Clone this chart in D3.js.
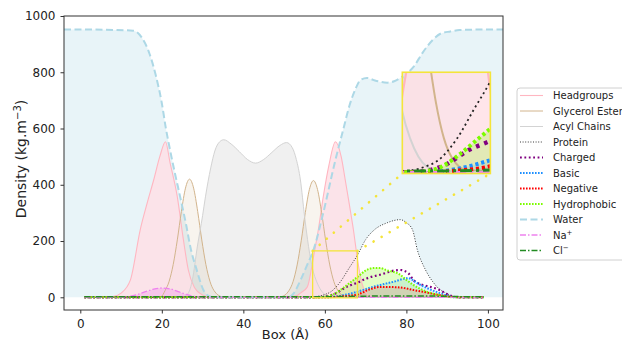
<!DOCTYPE html>
<html>
<head>
<meta charset="utf-8">
<script src="https://cdn.jsdelivr.net/npm/d3@7"></script>
<style>
  body { margin: 0; background: #fff; }
  svg text { font-family: "DejaVu Sans", sans-serif; fill: #222; }
</style>
</head>
<body>
<svg id="chart" width="622" height="342"></svg>
<script>
// tick labels
const xTicks = [0, 20, 40, 60, 80, 100];
const yTicks = [0, 200, 400, 600, 800, 1000];

// legend labels (Na+ / Cl- get a superscript)
const legendLabels = ['Headgroups', 'Glycerol Esters', 'Acyl Chains', 'Protein', 'Charged', 'Basic',
  'Negative', 'Hydrophobic', 'Water', 'Na', 'Cl'];
const legendSup = ['', '', '', '', '', '', '', '', '', '+', '\u2212'];

// density profiles (box position in A, density in kg.m-3)
const headgroupsX = [1, 8, 10, 12.3, 14.7, 16.5, 18, 19.5, 20.9, 22, 23.8, 25.3, 26.5, 28, 30, 32, 50, 53, 54, 55.7, 57.2, 58.5, 59.6, 61, 62.6, 64, 65, 66, 67, 68, 69, 70, 71, 73, 99];
const headgroupsY = [0, 3, 15, 62, 240, 340, 417, 500, 553, 480, 357, 204, 97, 35, 8, 0, 0, 5, 15, 37, 143, 250, 357, 470, 553, 500, 417, 330, 240, 135, 55, 18, 5, 0, 0];

const glycerolX = [1, 17, 19.8, 20.8, 21.8, 22.8, 23.8, 24.8, 25.8, 26.8, 27.8, 28.8, 29.8, 30.8, 31.8, 32.8, 34.8, 37, 47, 49.2, 51.2, 52.2, 53.2, 54.2, 55.2, 56.2, 57.2, 58.2, 59.2, 60.2, 61.2, 62.2, 63.2, 65.2, 67, 99];
const glycerolY = [0, 0, 2, 24, 57, 117, 204, 305, 388, 420, 388, 305, 204, 117, 57, 24, 2, 0, 0, 2, 24, 56, 115, 201, 301, 383, 415, 383, 301, 201, 115, 56, 24, 2, 0, 0];

const acylX = [1, 25, 26.5, 27.5, 28.7, 30, 30.7, 32, 33, 34.2, 35.2, 37, 39, 41, 43, 45, 47, 49, 50.6, 52, 53, 54, 55, 56, 57, 58, 59, 60, 62, 99];
const acylY = [0, 0, 15, 62, 179, 290, 357, 460, 520, 553, 560, 545, 518, 490, 477, 490, 515, 540, 550, 532, 490, 417, 290, 180, 100, 55, 26, 10, 0, 0];

const proteinX = [1, 55, 58, 60, 61.4, 63.8, 66, 68, 70, 72, 75.3, 78.5, 80, 81.5, 82.7, 84.7, 86.7, 88, 89.6, 91, 93, 99];
const proteinY = [0, 0, 3, 10, 19, 55, 105, 150, 205, 238, 265, 276, 265, 240, 168, 97, 51, 30, 15, 5, 0, 0];

const chargedX = [1, 58, 62, 65.5, 68, 70.4, 74, 77, 78.5, 80.5, 81.7, 84, 85.6, 87.8, 89.4, 91, 93, 99];
const chargedY = [0, 0, 10, 38, 52, 68, 82, 95, 97, 85, 62, 44, 38, 28, 16, 5, 0, 0];

const basicX = [1, 60, 64, 68, 72, 73.6, 76.8, 80.5, 82.7, 85, 88, 89.6, 92, 99];
const basicY = [0, 0, 6, 20, 38, 44, 55, 68, 50, 33, 16, 8, 0, 0];

const negativeX = [1, 60, 64, 68, 71, 73.6, 78.5, 81.7, 85, 88, 91, 93, 99];
const negativeY = [0, 0, 3, 10, 28, 37, 35, 26, 17, 8, 2, 0, 0];

const hydrophobicX = [1, 58, 60, 62, 64, 66, 68, 70, 72, 73.6, 75, 78.5, 80, 81.7, 85, 88, 90, 92, 99];
const hydrophobicY = [0, 0, 2, 10, 28, 50, 72, 95, 104, 104, 97, 80, 62, 44, 20, 8, 2, 0, 0];

const waterX = [-4, 1, 13, 15, 17, 18.5, 20, 21, 22, 23, 24.5, 26, 27, 28.5, 30.2, 31.5, 33, 51, 52.4, 54, 55.5, 57.2, 59.6, 62.6, 64.5, 66, 67.5, 68.7, 70.3, 72, 75.3, 77, 79, 81.8, 84, 86.6, 88.5, 90.8, 93, 99, 103.7];
const waterY = [952, 952, 948, 925, 865, 790, 690, 600, 525, 455, 357, 255, 179, 100, 26, 5, 0, 0, 15, 60, 110, 168, 300, 489, 596, 680, 740, 772, 780, 772, 763, 768, 785, 820, 870, 917, 938, 945, 950, 952, 952];

const sodiumX = [1, 10, 12, 14, 16, 18, 20, 22, 24, 26, 28, 30, 99];
const sodiumY = [0, 0, 3, 10, 20, 29, 33, 30, 20, 10, 3, 0, 0];

const chlorideX = [1, 60, 70, 80, 88, 95, 99];
const chlorideY = [2, 2, 4, 5, 4, 2, 2];

// zoomed region (data units) and where the inset sits on the main axes
const zoomX = [57, 68], zoomY = [-2, 165];
const insetX = [79, 100.6], insetY = [440, 800];

const series = [
  { name: 'Headgroups', xs: headgroupsX, ys: headgroupsY },
  { name: 'Glycerol Esters', xs: glycerolX, ys: glycerolY },
  { name: 'Acyl Chains', xs: acylX, ys: acylY },
  { name: 'Protein', xs: proteinX, ys: proteinY },
  { name: 'Charged', xs: chargedX, ys: chargedY },
  { name: 'Basic', xs: basicX, ys: basicY },
  { name: 'Negative', xs: negativeX, ys: negativeY },
  { name: 'Hydrophobic', xs: hydrophobicX, ys: hydrophobicY },
  { name: 'Water', xs: waterX, ys: waterY },
  { name: 'Na', xs: sodiumX, ys: sodiumY },
  { name: 'Cl', xs: chlorideX, ys: chlorideY }
];
const byName = {};
series.forEach(s => byName[s.name] = s);

const styles = {
  'Headgroups':      { stroke: '#ffb6c1', width: 1.1, dash: null, fill: '#ffdfe5', op: 0.8 },
  'Glycerol Esters': { stroke: '#d2b48c', width: 1, dash: null, fill: '#d2b48c', op: 0.15 },
  'Acyl Chains':     { stroke: '#d3d3d3', width: 1, dash: null, fill: '#d3d3d3', op: 0.35 },
  'Protein':         { stroke: '#222', width: 0.9, dash: [1, 1.6], fill: '#fff', op: 1 },
  'Charged':         { stroke: '#800080', width: 2.2, dash: [1.8, 2.6], fill: null },
  'Basic':           { stroke: '#1e90ff', width: 2, dash: [1.6, 1.4], fill: '#1e90ff', op: 0.12 },
  'Negative':        { stroke: '#ff0000', width: 2, dash: [1.6, 1.4], fill: '#ff0000', op: 0.12 },
  'Hydrophobic':     { stroke: '#7cfc00', width: 2, dash: [1.6, 1.4], fill: '#7cfc00', op: 0.22 },
  'Water':           { stroke: '#add8e6', width: 2, dash: [7, 3.5], fill: '#add8e6', op: 0.28 },
  'Na':              { stroke: '#ee82ee', width: 1.3, dash: [6, 2, 1.5, 2], fill: '#ee82ee', op: 0.3 },
  'Cl':              { stroke: '#228b22', width: 1.5, dash: [6, 2, 1.5, 2], fill: '#228b22', op: 0.3 }
};
const fillOrder = ['Water', 'Protein', 'Acyl Chains', 'Glycerol Esters', 'Headgroups',
  'Hydrophobic', 'Basic', 'Negative', 'Na', 'Cl'];

const svg = d3.select('#chart');
const margin = { top: 16, right: 119, bottom: 32, left: 64 };
const W = 622 - margin.left - margin.right;
const H = 342 - margin.top - margin.bottom;

const x = d3.scaleLinear().domain([-4, 103.7]).range([margin.left, margin.left + W]);
const y = d3.scaleLinear().domain([-45.2, 1000]).range([margin.top + H, margin.top]);

const defs = svg.append('defs');
defs.append('clipPath').attr('id', 'clipMain').append('rect')
  .attr('x', margin.left).attr('y', margin.top).attr('width', W).attr('height', H);
defs.append('clipPath').attr('id', 'clipInset').append('rect')
  .attr('x', x(insetX[0])).attr('y', y(insetY[1]))
  .attr('width', x(insetX[1]) - x(insetX[0])).attr('height', y(insetY[0]) - y(insetY[1]));

function drawPanel(g, sx, sy, k) {
  fillOrder.forEach(name => {
    const s = byName[name], st = styles[name];
    g.append('path').datum(d3.zip(s.xs, s.ys))
      .attr('d', d3.area().x(d => sx(d[0])).y0(sy(0)).y1(d => sy(d[1])).curve(d3.curveMonotoneX))
      .attr('fill', st.fill).attr('fill-opacity', st.op);
  });
  series.forEach(s => {
    const st = styles[s.name];
    g.append('path').datum(d3.zip(s.xs, s.ys))
      .attr('d', d3.line().x(d => sx(d[0])).y(d => sy(d[1])).curve(d3.curveMonotoneX))
      .attr('fill', 'none').attr('stroke', st.stroke)
      .attr('stroke-width', st.width * k)
      .attr('stroke-dasharray', st.dash ? st.dash.map(v => v * k).join(',') : null);
  });
}

// main panel
const plot = svg.append('g').attr('clip-path', 'url(#clipMain)');
drawPanel(plot, x, y, 1);

// zoom box + connectors
const yellow = '#f4e43a';
plot.append('rect')
  .attr('x', x(zoomX[0])).attr('y', y(zoomY[1]))
  .attr('width', x(zoomX[1]) - x(zoomX[0])).attr('height', y(zoomY[0]) - y(zoomY[1]))
  .attr('fill', 'none').attr('stroke', yellow).attr('stroke-width', 1.3);
[[zoomX[0], insetX[0]], [zoomX[1], insetX[1]]].forEach(p => {
  plot.append('line')
    .attr('x1', x(p[0])).attr('y1', y(zoomY[1]))
    .attr('x2', x(p[1])).attr('y2', y(insetY[0]))
    .attr('stroke', yellow).attr('stroke-width', 2.6)
    .attr('stroke-linecap', 'round').attr('stroke-dasharray', '0.1,9.2');
});

// inset
const ix = d3.scaleLinear().domain(zoomX).range([x(insetX[0]), x(insetX[1])]);
const iy = d3.scaleLinear().domain(zoomY).range([y(insetY[0]), y(insetY[1])]);
const inset = svg.append('g').attr('clip-path', 'url(#clipInset)');
inset.append('rect').attr('x', ix.range()[0]).attr('y', iy.range()[1])
  .attr('width', ix.range()[1] - ix.range()[0]).attr('height', iy.range()[0] - iy.range()[1])
  .attr('fill', '#fff');
drawPanel(inset, ix, iy, 2);
svg.append('rect').attr('x', ix.range()[0]).attr('y', iy.range()[1])
  .attr('width', ix.range()[1] - ix.range()[0]).attr('height', iy.range()[0] - iy.range()[1])
  .attr('fill', 'none').attr('stroke', yellow).attr('stroke-width', 1.6);

// axes
const axisColor = '#333';
const gx = svg.append('g').attr('transform', 'translate(0,' + (margin.top + H) + ')')
  .call(d3.axisBottom(x).tickValues(xTicks).tickFormat(d3.format('d')).tickSize(3.5).tickPadding(6).tickSizeOuter(0));
const gy = svg.append('g').attr('transform', 'translate(' + margin.left + ',0)')
  .call(d3.axisLeft(y).tickValues(yTicks).tickFormat(d3.format('d')).tickSize(3.5).tickPadding(5).tickSizeOuter(0));
[gx, gy].forEach(g => {
  g.select('.domain').remove();
  g.selectAll('line').attr('stroke', axisColor);
  g.selectAll('text').style('font-size', '12px').style('font-family', '"DejaVu Sans", sans-serif').attr('fill', '#222');
});
svg.append('rect').attr('x', margin.left).attr('y', margin.top).attr('width', W).attr('height', H)
  .attr('fill', 'none').attr('stroke', axisColor).attr('stroke-width', 1);

svg.append('text').attr('x', margin.left + W / 2 + 2).attr('y', 339)
  .attr('text-anchor', 'middle').style('font-size', '13px').text('Box (\u00c5)');

const yl = svg.append('text').attr('transform', 'translate(25.5,159) rotate(-90)')
  .attr('text-anchor', 'middle').style('font-size', '14px');
yl.append('tspan').text('Density (kg.m');
yl.append('tspan').attr('dy', -5).style('font-size', '10px').text('\u22123');
yl.append('tspan').attr('dy', 5).text(')');

// legend
const lg = svg.append('g');
lg.append('rect').attr('x', 517).attr('y', 88).attr('width', 140).attr('height', 172)
  .attr('rx', 3).attr('fill', '#fff').attr('fill-opacity', 0.85)
  .attr('stroke', '#d0d0d0').attr('stroke-width', 1);
legendLabels.forEach((lab, i) => {
  const st = styles[series[i].name];
  const yy = 95.5 + i * 15.5;
  lg.append('line').attr('x1', 520).attr('x2', 543).attr('y1', yy).attr('y2', yy)
    .attr('stroke', st.stroke).attr('stroke-width', st.width)
    .attr('stroke-dasharray', st.dash ? st.dash.join(',') : null);
  const t = lg.append('text').attr('x', 553).attr('y', yy + 3.6).style('font-size', '10px');
  t.append('tspan').text(lab);
  if (legendSup[i]) t.append('tspan').attr('dy', -4).style('font-size', '7px').text(legendSup[i]);
});
</script>
</body>
</html>
